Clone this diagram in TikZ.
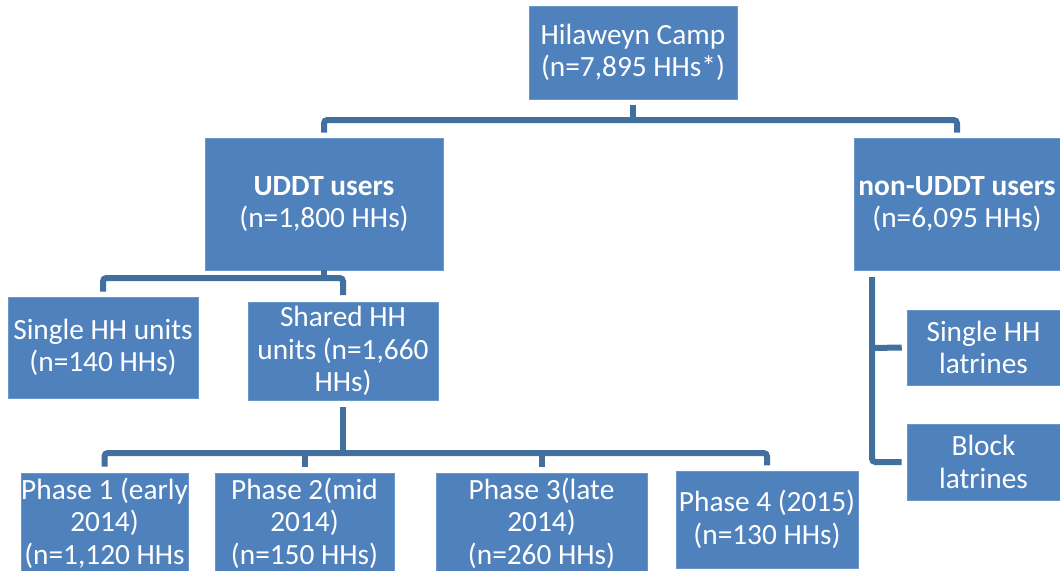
\documentclass[tikz,border=0pt]{standalone}
\usepackage{fontspec}
\setmainfont{Carlito}
\definecolor{boxfill}{HTML}{4F81BD}
\definecolor{boxedge}{HTML}{6A96CC}
\definecolor{connc}{HTML}{41709F}
\begin{document}
\begin{tikzpicture}[x=0.75pt,y=-0.75pt,
  box/.style={fill=boxfill,draw=boxedge,line width=0.4pt,text=white,align=center,inner sep=0pt,
    font=\fontsize{22}{24.5}\selectfont},
  conn/.style={draw=connc,line width=4.5pt,rounded corners=2.5pt}]
\useasboundingbox (0,0) rectangle (1060,571);
\begin{scope}
\clip (0,0) rectangle (1060,571);
\node[box,minimum width=156pt,minimum height=69.75pt] (top) at (633,52.5) {Hilaweyn Camp\\(n=7,895 HHs*)};
\node[box,minimum width=178.5pt,minimum height=99pt] (uddt) at (324,204) {\textbf{UDDT users}\\(n=1,800 HHs)};
\node[box,minimum width=154.5pt,minimum height=99pt] (non) at (957,204) {\textbf{non-UDDT users}\\(n=6,095 HHs)};
\node[box,minimum width=142.5pt,minimum height=75.75pt] (single) at (103,347.5) {Single HH units\\(n=140 HHs)};
\node[box,minimum width=142.5pt,minimum height=73.5pt] (shared) at (343,351) {Shared HH\\units (n=1,660\\HHs)};
\node[box,minimum width=125.25pt,minimum height=75pt] (p1) at (104.5,523) {Phase 1 (early\\2014)\\(n=1,120 HHs};
\node[box,minimum width=134.25pt,minimum height=75pt] (p2) at (304.5,523) {Phase 2(mid\\2014)\\(n=150 HHs)};
\node[box,minimum width=158.25pt,minimum height=75pt] (p3) at (541.5,523) {Phase 3(late\\2014)\\(n=260 HHs)};
\node[box,minimum width=136.5pt,minimum height=72.75pt] (p4) at (767,519.5) {Phase 4 (2015)\\(n=130 HHs)};
\node[box,minimum width=114.75pt,minimum height=56.25pt] (sl) at (983.5,347.5) {Single HH\\latrines};
\node[box,minimum width=114.75pt,minimum height=57pt] (bl) at (983.5,462) {Block\\latrines};
\end{scope}
% junctions
\coordinate (j0) at (633,120);
\coordinate (j1) at (324,278);
\coordinate (j2) at (343,453);
\coordinate (j3) at (872,277);
\coordinate (j4) at (872,348);
% top level
\draw[conn] ([yshift=-4.5pt]top.south) -- (j0);
\draw[conn] ([yshift=3.75pt]uddt.north) |- (j0) -| ([yshift=3.75pt]non.north);
% UDDT children
\draw[conn] (uddt.south) -- (j1);
\draw[conn] ([yshift=3.75pt]single.north) |- (j1) -| ([yshift=5pt]shared.north);
% shared children
\draw[conn] ([yshift=-5pt]shared.south) -- (j2);
\draw[conn] ([yshift=4.5pt]p1.north) |- (j2) -| ([yshift=4pt]p4.north);
\draw[conn] ([yshift=4.5pt]p2.north) -- (p2.north |- j2);
\draw[conn] ([yshift=4.5pt]p3.north) -- (p3.north |- j2);
% non-UDDT children
\draw[conn] (j3) |- ([xshift=-3.75pt]bl.west);
\draw[conn] (j4) -- ([xshift=-3.75pt]sl.west);
\end{tikzpicture}
\end{document}
